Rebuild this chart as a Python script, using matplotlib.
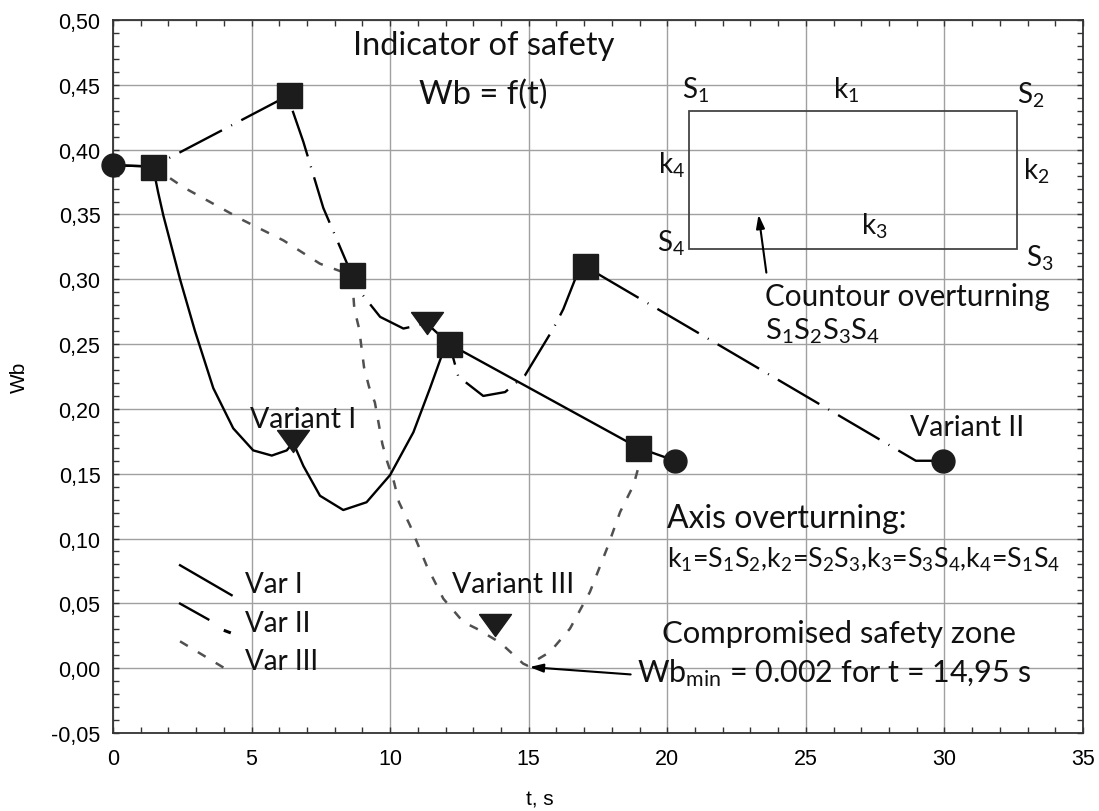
import matplotlib
matplotlib.use("Agg")
import matplotlib.pyplot as plt
from matplotlib.ticker import FixedLocator, MultipleLocator
from matplotlib.patches import Rectangle

# Variant I (solid line)
T_VAR1 = [0, 1.44, 1.63, 1.82, 2.42, 2.96, 3.62, 4.34, 5.06, 5.73, 6.27, 6.5,
          6.87, 7.47, 8.31, 9.15, 10.0, 10.84, 11.44, 11.86, 12.14, 18.96, 20.28]
WB_VAR1 = [0.388, 0.387, 0.367, 0.349, 0.300, 0.260, 0.216, 0.185, 0.168, 0.164, 0.168, 0.174,
           0.156, 0.133, 0.122, 0.128, 0.149, 0.182, 0.216, 0.241, 0.250, 0.170, 0.160]

# Variant II (long dash)
T_VAR2 = [0, 1.44, 6.35, 6.45, 6.87, 7.59, 8.43, 8.62, 8.97, 9.64, 10.48, 11.32, 12.14,
          12.46, 13.36, 14.15, 14.87, 15.89, 16.25, 16.73, 17.03, 28.97, 29.94]
WB_VAR2 = [0.388, 0.387, 0.442, 0.432, 0.406, 0.355, 0.313, 0.303, 0.289, 0.271, 0.262, 0.266, 0.250,
           0.225, 0.210, 0.213, 0.226, 0.262, 0.277, 0.303, 0.310, 0.160, 0.160]

# Variant III (short grey dashes)
T_VAR3 = [1.44, 2.54, 4.70, 6.15, 7.47, 8.62, 8.71, 8.88, 9.06, 9.24, 9.45, 9.72, 9.90, 10.14,
          10.32, 10.72, 11.32, 11.92, 12.64, 13.12, 13.79, 14.08, 14.80, 14.95, 15.77, 16.49,
          17.21, 17.82, 18.30, 18.78, 19.0]
WB_VAR3 = [0.387, 0.371, 0.3455, 0.330, 0.312, 0.303, 0.277, 0.262, 0.232, 0.217, 0.205, 0.173, 0.159, 0.1436,
           0.128, 0.110, 0.079, 0.0536, 0.0356, 0.0305, 0.022, 0.0176, 0.0035, 0.002, 0.0125, 0.0305,
           0.0588, 0.092, 0.1205, 0.141, 0.158]

# markers
SQUARE_T = [1.44, 6.35, 8.62, 12.14, 17.03, 18.96]
SQUARE_WB = [0.387, 0.442, 0.303, 0.250, 0.310, 0.170]
CIRCLE_T = [0, 20.28, 29.94]
CIRCLE_WB = [0.388, 0.160, 0.160]
TRI_T = [6.5, 11.32, 13.79]
TRI_WB = [0.175, 0.266, 0.033]

X_TICKS = [0, 5, 10, 15, 20, 25, 30, 35]
Y_TICKS = [-0.05, 0.0, 0.05, 0.10, 0.15, 0.20, 0.25, 0.30, 0.35, 0.40, 0.45, 0.50]
Y_LABELS = ["-0,05", "0,00", "0,05", "0,10", "0,15", "0,20", "0,25", "0,30",
            "0,35", "0,40", "0,45", "0,50"]

plt.rcParams['lines.scale_dashes'] = False
plt.rcParams['mathtext.default'] = 'regular'

INK = '#1c1c1c'


def ann(size=20):
    return dict(family='Lato', fontsize=size, color='#111111')


fig = plt.figure(figsize=(10.99, 8.12), dpi=100)
ax = fig.add_axes([0.1028, 0.0961, 0.8826, 0.8780])

# courbes
ax.plot(T_VAR1, WB_VAR1, color='black', lw=1.7, solid_capstyle='butt', solid_joinstyle='round', zorder=3)
ax.plot(T_VAR2, WB_VAR2, color='black', lw=1.7, linestyle=(0, (34.6, 7.5, 0.7, 7.5)),
        dash_capstyle='butt', zorder=3)
ax.plot(T_VAR3, WB_VAR3, color='#505050', lw=1.8, linestyle=(0, (6.5, 8.5)),
        dash_capstyle='butt', zorder=3)

# marqueurs
tri = [(-1, 0.69), (1, 0.69), (0, -0.69), (-1, 0.69)]
ax.plot(SQUARE_T, SQUARE_WB, linestyle='none', marker='s', markersize=18, color=INK, zorder=5)
ax.plot(CIRCLE_T, CIRCLE_WB, linestyle='none', marker='o', markersize=16.5, color=INK, zorder=5,
        clip_on=False)
ax.plot(TRI_T, TRI_WB, linestyle='none', marker=tri, markersize=23, color=INK, zorder=5)

# axes
ax.set_xlim(0, 35)
ax.set_ylim(-0.05, 0.50)
ax.xaxis.set_major_locator(FixedLocator(X_TICKS))
ax.yaxis.set_major_locator(FixedLocator(Y_TICKS))
ax.set_yticklabels(Y_LABELS)
ax.xaxis.set_minor_locator(MultipleLocator(1))
ax.yaxis.set_minor_locator(MultipleLocator(0.01))
ax.tick_params(which='both', direction='in', top=True, right=True, length=4, width=1,
               color='#333333')
ax.tick_params(axis='both', which='major', labelsize=15.5)
ax.tick_params(axis='y', pad=9)
ax.tick_params(axis='x', pad=11)
for lab in ax.get_xticklabels() + ax.get_yticklabels():
    lab.set_family('Liberation Sans')
ax.grid(True, which='major', color='#a0a0a0', lw=1.0)
for sp in ax.spines.values():
    sp.set_linewidth(1.3)
    sp.set_color('#333333')

ax.set_xlabel("t, s", family='Liberation Sans', fontsize=15)
ax.set_ylabel("Wb", family='Liberation Sans', fontsize=15)
ax.xaxis.set_label_coords(0.44, -0.0926)
ax.xaxis.label.set_va('center')
ax.yaxis.set_label_coords(-0.096, 0.5)
ax.yaxis.label.set_va('center')

# textes
ax.text(13.37, 0.4737, "Indicator of safety", ha='center', va='baseline', **ann(23.5))
ax.text(13.37, 0.4355, "Wb = f(t)", ha='center', va='baseline', **ann(23.5))

ax.add_patch(Rectangle((20.79, 0.3237), 11.83, 0.1063, fill=False, edgecolor='#444444',
                       lw=1.3, zorder=2))
ax.text(20.53, 0.4406, "S$_1$", va='baseline', **ann())
ax.text(25.98, 0.4406, "k$_1$", va='baseline', **ann())
ax.text(32.62, 0.4367, "S$_2$", va='baseline', **ann())
ax.text(19.67, 0.3827, "k$_4$", va='baseline', **ann())
ax.text(32.84, 0.3776, "k$_2$", va='baseline', **ann())
ax.text(26.99, 0.3352, "k$_3$", va='baseline', **ann())
ax.text(19.63, 0.3223, "S$_4$", va='baseline', **ann())
ax.text(32.94, 0.3107, "S$_3$", va='baseline', **ann())

ax.annotate("", xy=(23.28, 0.352), xytext=(23.59, 0.303),
            arrowprops=dict(arrowstyle='-|>,head_length=0.8,head_width=0.25', color='black', lw=1.5))
ax.text(23.53, 0.2799, "Countour overturning", va='baseline', **ann(21.3))
ax.text(23.53, 0.254, "S$_1$S$_2$S$_3$S$_4$", va='baseline', **ann(21))

ax.text(4.94, 0.186, "Variant I", va='baseline', **ann(20.5))
ax.text(28.76, 0.1796, "Variant II", va='baseline', **ann(20.5))
ax.text(12.23, 0.0588, "Variant III", va='baseline', **ann(20.5))

ax.text(19.99, 0.1089, "Axis overturning:", va='baseline', **ann(23))
ax.text(19.99, 0.078, "k$_1$=S$_1$S$_2$,k$_2$=S$_2$S$_3$,k$_3$=S$_3$S$_4$,k$_4$=S$_1$S$_4$",
        va='baseline', **ann(19.3))

ax.text(19.81, 0.0204, "Compromised safety zone", va='baseline', **ann(22.3))
ax.text(18.9, -0.0104, "Wb$_{min}$ = 0.002 for t = 14,95 s", va='baseline', **ann(22))
ax.annotate("", xy=(14.93, 0.001), xytext=(18.78, -0.005),
            arrowprops=dict(arrowstyle='-|>,head_length=0.8,head_width=0.25', color='black', lw=1.5))

# légende dessinée à la main
ax.plot([2.42, 4.28], [0.0794, 0.0563], color='black', lw=1.7)
ax.plot([2.42, 3.44], [0.0498, 0.0376], color='black', lw=1.7)
ax.plot([4.05, 4.2], [0.0288, 0.0276], color='black', lw=2.2)
ax.plot([2.42, 4.10], [0.0207, -0.001], color='#505050', lw=1.8, linestyle=(0, (6.5, 8.5)))
ax.text(4.76, 0.059, "Var I", va='baseline', **ann())
ax.text(4.76, 0.0289, "Var II", va='baseline', **ann())
ax.text(4.76, -0.0004, "Var III", va='baseline', **ann())

fig.savefig("out.png", dpi=100)
